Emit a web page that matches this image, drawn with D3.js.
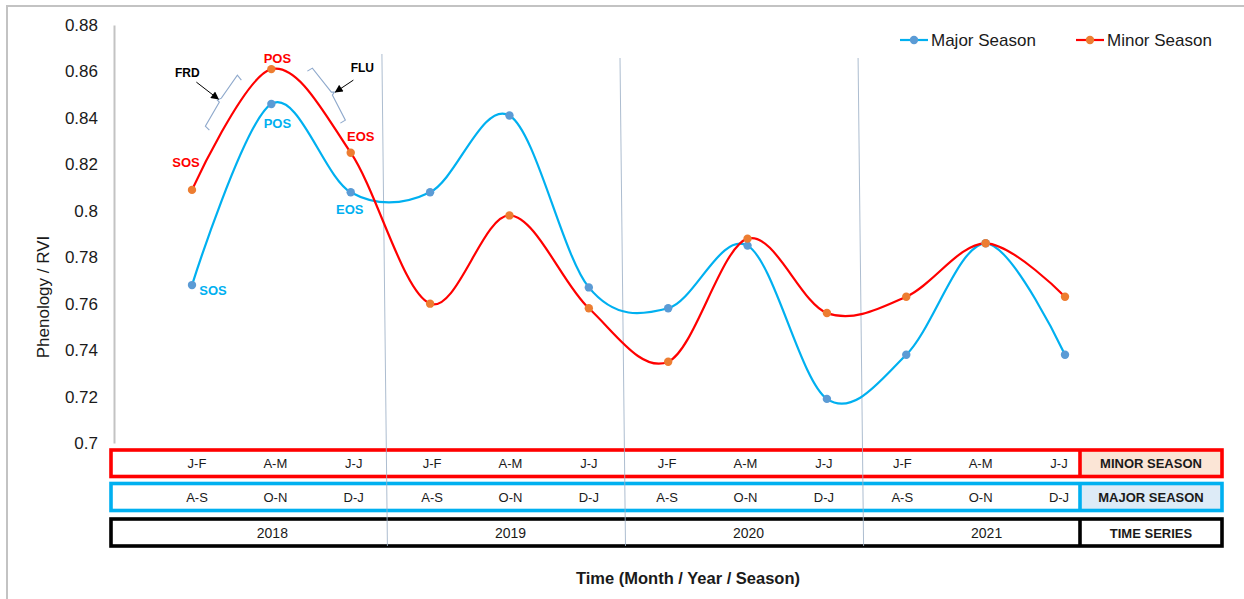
<!DOCTYPE html>
<html><head><meta charset="utf-8">
<script src="https://cdn.jsdelivr.net/npm/d3@7"></script>
<style>
body{margin:0;background:#fff;}
svg{display:block;font-family:Arial,"Liberation Sans",sans-serif;}
</style>
</head><body>
<svg id="chart" width="1244" height="599"></svg>
<script>
// ---------------- data ----------------
const periods = d3.range(12);
const minorLabels = ["J-F","A-M","J-J","J-F","A-M","J-J","J-F","A-M","J-J","J-F","A-M","J-J"];
const majorLabels = ["A-S","O-N","D-J","A-S","O-N","D-J","A-S","O-N","D-J","A-S","O-N","D-J"];
const years = ["2018","2019","2020","2021"];
const majorSeason = [0.768,0.846,0.808,0.808,0.841,0.767,0.758,0.785,0.719,0.738,0.786,0.738];
const minorSeason = [0.809,0.861,0.825,0.760,0.798,0.758,0.735,0.788,0.756,0.763,0.786,0.763];
const yTicks = [0.7,0.72,0.74,0.76,0.78,0.8,0.82,0.84,0.86,0.88];
const yTickLabels = ["0.7","0.72","0.74","0.76","0.78","0.8","0.82","0.84","0.86","0.88"];
const seriesNames = ["Major Season","Minor Season"];
const rowNames = ["MINOR SEASON","MAJOR SEASON","TIME SERIES"];

// ---------------- styles ----------------
const C = {
  majorLine:"#00B0F0", minorLine:"#FF0000",
  majorMark:"#5B9BD5", minorMark:"#ED7D31",
  grayBorder:"#C3C3C3", sep:"#9FB2C8", bracket:"#8FA9CC",
  minorFill:"#FBE5D6", majorFill:"#DDEBF7", text:"#1a1a1a"
};

const svg = d3.select("#chart");

// outer frame (left + top)
svg.append("path").attr("d","M7,599V6H1244").attr("fill","none")
  .attr("stroke",C.grayBorder).attr("stroke-width",2);

const x = d3.scalePoint().domain(periods).range([192,1065]);
const xt = d3.scalePoint().domain(periods).range([197,1059]);
const y = d3.scaleLinear().domain([0.7,0.88]).range([443,25]);

// y axis
const yAxis = d3.axisLeft(y).tickValues(yTicks)
  .tickFormat((d,i)=>yTickLabels[i]).tickSize(0).tickSizeOuter(0).tickPadding(16);
const gy = svg.append("g").attr("transform","translate(114,0)").call(yAxis);
gy.select(".domain").attr("stroke",C.grayBorder).attr("stroke-width",2);
gy.selectAll("text").attr("font-size",17).attr("fill",C.text)
  .attr("font-family","Arial, 'Liberation Sans', sans-serif");

svg.append("text").attr("transform","translate(49,297) rotate(-90)")
  .attr("text-anchor","middle").attr("font-size",17).attr("fill",C.text)
  .text("Phenology / RVI");

// ---------------- table ----------------
const tblL = 111, tblR = 1222, divX = 1080;
const rows = [
  {y:450, h:26.5, stroke:C.minorLine, fill:C.minorFill, labels:minorLabels},
  {y:483.5, h:27, stroke:C.majorLine, fill:C.majorFill, labels:majorLabels},
  {y:519, h:27, stroke:"#000", fill:"#fff", labels:null}
];
rows.forEach((r,i)=>{
  svg.append("rect").attr("x",divX).attr("y",r.y).attr("width",tblR-divX).attr("height",r.h)
    .attr("fill",r.fill);
  svg.append("rect").attr("x",tblL).attr("y",r.y).attr("width",tblR-tblL).attr("height",r.h)
    .attr("fill","none").attr("stroke",r.stroke).attr("stroke-width",3.6);
  svg.append("line").attr("x1",divX).attr("x2",divX).attr("y1",r.y).attr("y2",r.y+r.h)
    .attr("stroke",r.stroke).attr("stroke-width",3.6);
  svg.append("text").attr("x",(divX+tblR)/2).attr("y",r.y+r.h/2+5)
    .attr("text-anchor","middle").attr("font-size",13).attr("font-weight","bold")
    .attr("fill",C.text).text(rowNames[i]);
  if(r.labels){
    svg.append("g").selectAll("text").data(periods).join("text")
      .attr("x",d=>xt(d)).attr("y",r.y+r.h/2+5).attr("text-anchor","middle")
      .attr("font-size",13).attr("fill",C.text).text(d=>r.labels[d]);
  } else {
    svg.append("g").selectAll("text").data(years).join("text")
      .attr("x",(d,k)=>x(k*3+1)+1).attr("y",r.y+r.h/2+5).attr("text-anchor","middle")
      .attr("font-size",14).attr("fill",C.text).text(d=>d);
  }
});

// year separators (slightly slanted thin lines)
[2,5,8].forEach((k,j)=>{
  const m = (x(k)+x(k+1))/2;
  svg.append("line").attr("x1",m-8.5).attr("y1",j===0?54:58).attr("x2",m-3).attr("y2",546)
    .attr("stroke",C.sep).attr("stroke-width",1).attr("opacity",0.85);
});

// ---------------- series ----------------
const line = d3.line().x((d,i)=>x(i)).y(d=>y(d)).curve(d3.curveCardinal.tension(0));
const series = [
  {vals:majorSeason, lc:C.majorLine, mc:C.majorMark},
  {vals:minorSeason, lc:C.minorLine, mc:C.minorMark}
];
series.forEach(s=>{
  svg.append("path").datum(s.vals).attr("d",line).attr("fill","none")
    .attr("stroke",s.lc).attr("stroke-width",2.2);
});
series.forEach(s=>{
  svg.append("g").selectAll("circle").data(s.vals).join("circle")
    .attr("cx",(d,i)=>x(i)).attr("cy",d=>y(d)).attr("r",4.2).attr("fill",s.mc);
});

// ---------------- legend ----------------
const legend = [
  {x0:900, lc:C.majorLine, mc:C.majorMark, name:seriesNames[0]},
  {x0:1076, lc:C.minorLine, mc:C.minorMark, name:seriesNames[1]}
];
legend.forEach(l=>{
  const g = svg.append("g").attr("transform",`translate(${l.x0},40)`);
  g.append("line").attr("x1",0).attr("x2",28).attr("stroke",l.lc).attr("stroke-width",2.2);
  g.append("circle").attr("cx",14).attr("r",4.2).attr("fill",l.mc);
  g.append("text").attr("x",31).attr("y",6).attr("font-size",17).attr("fill",C.text).text(l.name);
});

// ---------------- annotations ----------------
const ann = [
  {t:"POS", i:1, v:minorSeason, c:C.minorLine, dx:6, dy:-6},
  {t:"POS", i:1, v:majorSeason, c:C.majorLine, dx:6, dy:24},
  {t:"SOS", i:0, v:minorSeason, c:C.minorLine, dx:-6, dy:-23},
  {t:"EOS", i:2, v:minorSeason, c:C.minorLine, dx:10, dy:-12},
  {t:"EOS", i:2, v:majorSeason, c:C.majorLine, dx:-1, dy:22},
  {t:"SOS", i:0, v:majorSeason, c:C.majorLine, dx:21, dy:10}
];
ann.forEach(a=>{
  svg.append("text").attr("x",x(a.i)+a.dx).attr("y",y(a.v[a.i])+a.dy)
    .attr("text-anchor","middle").attr("font-size",13).attr("font-weight","bold")
    .attr("fill",a.c).text(a.t);
});

// FRD / FLU with brackets and arrows, placed relative to the minor peak
const px = x(1), py = y(minorSeason[1]);
const defs = svg.append("defs");
defs.append("marker").attr("id","ah").attr("viewBox","0 0 10 10").attr("refX",9).attr("refY",5)
  .attr("markerWidth",9).attr("markerHeight",8).attr("orient","auto").attr("markerUnits","userSpaceOnUse")
  .append("path").attr("d","M0,0L10,5L0,10Z").attr("fill","#000");

const rel = pts => "M" + pts.map(p=>[px+p[0],py+p[1]].join(",")).join("L");
svg.append("path").attr("d",rel([[-30,11],[-34,6],[-50,29],[-54,31],[-52,33],[-66,57],[-62,61]]))
  .attr("fill","none").attr("stroke",C.bracket).attr("stroke-width",1.1);
svg.append("path").attr("d",rel([[36,2],[41,-1],[60,23],[63,23],[61,26],[74,51],[69,54]]))
  .attr("fill","none").attr("stroke",C.bracket).attr("stroke-width",1.1);

svg.append("line").attr("x1",px-75).attr("y1",py+13).attr("x2",px-53).attr("y2",py+30)
  .attr("stroke","#000").attr("stroke-width",1).attr("marker-end","url(#ah)");
svg.append("line").attr("x1",px+82).attr("y1",py+11).attr("x2",px+64).attr("y2",py+23)
  .attr("stroke","#000").attr("stroke-width",1).attr("marker-end","url(#ah)");

svg.append("text").attr("x",px-84).attr("y",py+8).attr("text-anchor","middle")
  .attr("font-size",12).attr("font-weight","bold").attr("fill","#000").text("FRD");
svg.append("text").attr("x",px+91).attr("y",py+3).attr("text-anchor","middle")
  .attr("font-size",12).attr("font-weight","bold").attr("fill","#000").text("FLU");

// x axis title
svg.append("text").attr("x",688).attr("y",584).attr("text-anchor","middle")
  .attr("font-size",16.5).attr("font-weight","bold").attr("fill",C.text)
  .text("Time (Month / Year / Season)");
</script>
</body></html>
